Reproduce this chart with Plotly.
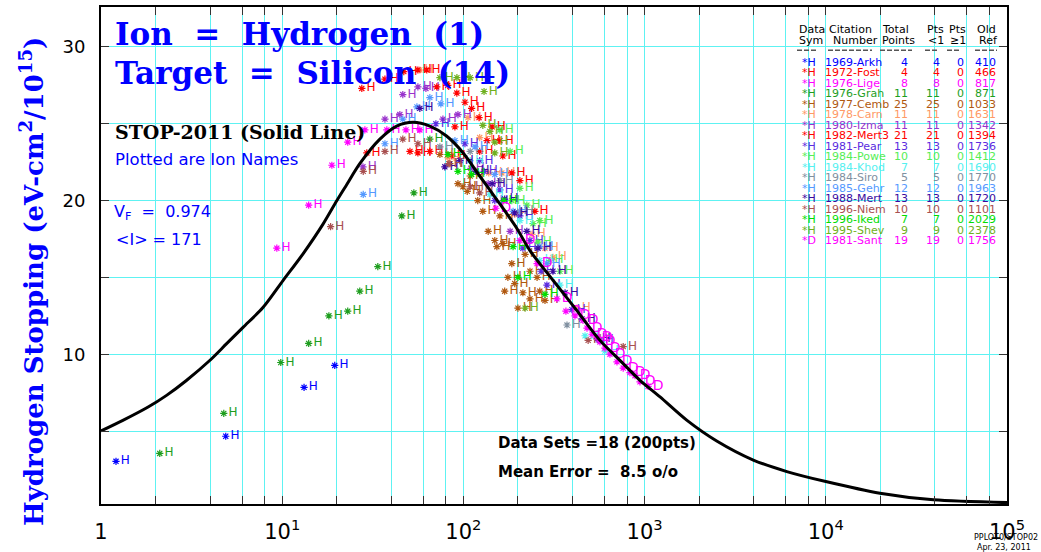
import plotly.graph_objects as go

# ---------------- STOP-2011 curve (solid line) ----------------
curve_E = [1, 1.32, 1.82, 2.30, 2.96, 3.98, 4.92, 6.08, 7.85, 10.1, 13.0, 16.8, 20.0, 22.6,
           26.8, 34.6, 42.8, 52.8, 65.3, 80.7, 99.7, 123, 152, 197, 233, 313, 422, 567,
           731, 943, 1217, 1707, 2500, 3981, 6095, 10000, 19900, 39300, 100000]
curve_S = [5.0, 5.69, 6.56, 7.32, 8.29, 9.59, 10.67, 11.75, 13.05, 14.79, 16.52, 18.47, 19.99, 21.0,
           22.4, 24.0, 24.85, 25.1, 24.85, 24.2, 23.1, 21.6, 20.1, 18.2, 16.74, 14.8, 12.85, 10.9,
           9.6, 8.3, 7.22, 5.71, 4.35, 3.11, 2.36, 1.71, 0.95, 0.52, 0.34]

# ---------------- measured data sets ----------------
arkh_E = [1.21, 4.88, 13.2, 19.5]
arkh_S = [3.03, 4.66, 7.84, 9.27]
fost_E = [29.3, 56.1, 65.3, 86.4]
fost_S = [23.1, 23.1, 23.2, 22.9]
lige_E = [9.34, 14.0, 18.8, 23.0, 28.6, 37.8, 48.2, 57.5]
lige_S = [16.9, 19.7, 22.3, 23.8, 24.6, 24.6, 24.6, 24.6]
grah_E = [2.11, 4.76, 9.82, 14.0, 18.1, 23.0, 26.8, 33.7, 45.7, 53.3, 65.3]
grah_S = [3.54, 6.15, 9.46, 10.7, 12.5, 12.8, 14.1, 15.7, 19.0, 20.5, 24.0]
cemb_E = [74.2, 84.2, 93.3, 99.4, 105, 120, 159, 137, 149, 153, 165, 176, 213, 233, 200, 233,
          255, 185, 192, 264, 282, 169, 128, 109, 219]
cemb_S = [23.0, 22.4, 21.1, 20.9, 20.6, 20.0, 19.0, 18.0, 17.4, 17.0, 17.2, 15.0, 14.0, 13.6, 13.0,
          15.4, 15.0, 15.9, 14.6, 14.1, 13.5, 14.1, 19.3, 21.6, 16.5]
carn_E = [57.5, 106, 123, 138, 163, 192, 239, 312, 424, 282, 82]
carn_S = [28.5, 25.4, 24.1, 21.8, 21.8, 19.1, 17.8, 16.3, 13.0, 16.9, 22.8]
izma_E = [27.9, 46.3, 56.1, 62.1, 36.9, 44.6, 77.1, 93.3, 110, 137, 181]
izma_S = [22.2, 26.9, 27.4, 27.3, 25.3, 25.6, 25.3, 25.6, 22.1, 21.1, 18.0]
mert3_E = [27.5, 36.9, 46.9, 56.1, 62.8, 71.3, 82.0, 92.0, 102, 111, 122, 165, 185, 135, 50.7,
           144, 205, 159, 248, 89.8, 123]
mert3_S = [27.3, 27.9, 28.4, 28.5, 28.5, 27.4, 27.5, 27.0, 26.4, 26.0, 25.4, 22.9, 21.8, 23.9, 23.2,
           24.8, 21.3, 23.9, 19.3, 24.8, 23.2]
pear_E = [70.5, 102, 130, 149, 213, 268, 289, 397, 567, 205, 233, 123, 159]
pear_S = [25.0, 23.7, 21.9, 20.0, 16.9, 15.4, 14.5, 12.9, 10.9, 19.0, 17.4, 22.6, 20.7]
powe_E = [181, 205, 224, 242, 258, 300, 185, 264, 341, 159]
powe_S = [23.2, 20.8, 19.7, 18.5, 17.3, 16.1, 20.0, 18.7, 15.4, 24.6]
khod_E = [140, 109, 205, 341, 469, 604, 264]
khod_S = [20.4, 22.6, 18.7, 14.5, 11.2, 10.2, 16.1]
siro_E = [74.2, 373, 109, 159, 205]
siro_S = [23.5, 11.9, 23.2, 21.3, 19.3]
gehr_E = [28.0, 65.3, 75.1, 55.4, 46.3, 36.9, 89.8, 116, 149, 188, 264, 289]
gehr_S = [20.4, 26.7, 26.3, 26.1, 25.3, 23.7, 23.9, 23.5, 21.7, 19.3, 17.0, 15.9]
mert_E = [57.5, 79, 95.7, 117, 144, 169, 192, 224, 258, 312, 364, 451, 546]
mert_S = [26.0, 22.2, 22.6, 21.9, 21.1, 20.1, 19.2, 18.0, 16.9, 15.4, 14.0, 12.3, 11.0]
niem_E = [18.5, 28.0, 36.9, 46.3, 56.1, 83.1, 488, 762, 109, 123]
niem_S = [18.3, 21.9, 23.2, 24.0, 23.7, 22.4, 10.9, 10.5, 20.9, 20.5]
iked_E = [82.2, 93.3, 111, 167, 188, 200, 282]
iked_S = [23.0, 21.9, 21.7, 20.0, 17.0, 15.0, 13.9]
shev_E = [74.2, 92.1, 109, 130, 128, 140, 149, 149, 219]
shev_S = [28.0, 28.0, 28.0, 27.1, 24.9, 24.5, 23.8, 23.1, 13.0]
sant_E = [151, 205, 255, 328, 368, 413, 457, 481, 513, 546, 567, 604, 644, 704, 762, 830, 885, 943, 1045]
sant_S = [19.5, 17.4, 15.9, 13.6, 12.8, 12.5, 12.2, 11.7, 11.3, 11.1, 10.8, 10.4, 10.0, 9.5, 9.1,
          8.8, 8.6, 8.2, 7.9]

# ---------------- citation table ----------------
cit_names = ["1969-Arkh", "1972-Fost", "1976-Lige", "1976-Grah", "1977-Cemb", "1978-Carn",
             "1980-Izma", "1982-Mert3", "1981-Pear", "1984-Powe", "1984-Khod", "1984-Siro",
             "1985-Gehr", "1988-Mert", "1996-Niem", "1996-Iked", "1995-Shev", "1981-Sant"]
cit_sym = ["H"] * 17 + ["D"]
cit_total = [4, 4, 8, 11, 25, 11, 11, 21, 13, 10, 7, 5, 12, 13, 10, 7, 9, 19]
cit_lt1 = [4, 4, 8, 11, 25, 11, 11, 21, 13, 10, 7, 5, 12, 13, 10, 7, 9, 19]
cit_ge1 = [0] * 18
cit_oldref = [410, 466, 817, 871, 1033, 1631, 1342, 1394, 1736, 1412, 1690, 1770, 1963, 1720,
              1101, 2029, 2378, 1756]

# tick values / labels (labels only at decades; grid + ticks at 2,4,6,8 too)
x_decades = [1, 10, 100, 1000, 10000, 100000]
x_dec_text = ["1", "10<sup>1</sup>", "10<sup>2</sup>", "10<sup>3</sup>", "10<sup>4</sup>", "10<sup>5</sup>"]
x_minor = [m * d for d in [1, 10, 100, 1000, 10000] for m in [2, 4, 6, 8]]
y_major = [10, 20, 30]
y_minor = [5, 15, 25]

# ---------------- styles ----------------
colors = ["#0000FF", "#FF0000", "#FF00FF", "#1E9E1E", "#B0580F", "#FF9966",
          "#9932CC", "#FF0000", "#5B2BE0", "#55EE55", "#55F0F0", "#8090A0",
          "#5599FF", "#3A0AA0", "#A85050", "#00DD00", "#6FB020", "#FF00FF"]
data_E = [arkh_E, fost_E, lige_E, grah_E, cemb_E, carn_E, izma_E, mert3_E, pear_E,
          powe_E, khod_E, siro_E, gehr_E, mert_E, niem_E, iked_E, shev_E, sant_E]
data_S = [arkh_S, fost_S, lige_S, grah_S, cemb_S, carn_S, izma_S, mert3_S, pear_S,
          powe_S, khod_S, siro_S, gehr_S, mert_S, niem_S, iked_S, shev_S, sant_S]

GRID = "#5EF2F2"
W, H = 1041, 552
L, R, T, B = 101, 34, 5, 48
PW, PH = W - L - R, H - T - B


def fx(xpix):
    return (xpix - L) / PW


def fy(ypix):
    return (H - B - ypix) / PH


fig = go.Figure()

for E, S, col, sym in zip(data_E, data_S, colors, cit_sym):
    fig.add_trace(go.Scatter(
        x=E, y=S, mode="markers+text", text=[sym] * len(E),
        textposition="middle right",
        textfont=dict(family="DejaVu Sans", size=12 if sym == "H" else 14, color=col),
        marker=dict(symbol="asterisk-open", size=6, color=col, line=dict(width=1.2, color=col)),
        showlegend=False, hoverinfo="skip", cliponaxis=True))

fig.add_trace(go.Scatter(x=curve_E, y=curve_S, mode="lines",
                         line=dict(color="black", width=3, shape="spline", smoothing=0.8),
                         showlegend=False, hoverinfo="skip"))

ann = []


def add(text, xp, yp, size, color, family="DejaVu Sans", xanchor="left", angle=0):
    ann.append(dict(text=text, x=fx(xp), y=fy(yp), xref="paper", yref="paper",
                    xanchor=xanchor, yanchor="middle", showarrow=False, textangle=angle,
                    font=dict(family=family, size=size, color=color)))


SERIF = "DejaVu Serif"
add("<b>Ion  =  Hydrogen  (1)</b>", 113, 32, 31, "#0000FF", SERIF)
add("<b>Target  =  Silicon  (14)</b>", 113, 71, 31, "#0000FF", SERIF)
add("<b>STOP-2011 (Solid Line)</b>", 113, 131, 19, "black", SERIF)
add("Plotted are Ion Names", 113, 158, 16.5, "#0000FF")
add("V<sub>F</sub>  =  0.974", 112, 211, 16, "#0000FF")
add("&lt;I&gt; = 171", 114, 238, 16, "#0000FF")
add("<b>Data Sets =18 (200pts)</b>", 496, 443, 15, "black")
add("<b>Mean Error =  8.5 o/o</b>", 496, 472, 15, "black")
add("PPLOT0/STOP02", 972, 538, 8, "black")
add("Apr. 23, 2011", 975, 548, 8, "black")
add("<b>Hydrogen Stopping (eV-cm<sup>2</sup>/10<sup>15</sup>)</b>", 32, 281, 26, "#0000FF", SERIF,
    xanchor="center", angle=-90)

# citation table header
hdr1 = [("Data", 797), ("Citation", 827), ("Total", 880), ("Pts", 925), ("Pts", 947), ("Old", 975)]
hdr2 = [("Sym", 797), ("Number", 831), ("Points", 880), ("&lt;1", 926), ("≥1", 948), ("Ref", 977)]
for t, xp in hdr1:
    add(t, xp, 28, 11, "black")
for t, xp in hdr2:
    add(t, xp, 38.5, 11, "black")

shapes = []
for x0, x1 in [(797, 816), (828, 872), (880, 912), (925, 938), (947, 961), (975, 997)]:
    shapes.append(dict(type="line", xref="paper", yref="paper", x0=fx(x0), x1=fx(x1),
                       y0=fy(48.5), y1=fy(48.5), line=dict(color="#555", width=1.5, dash="5px,2px")))

for i in range(len(cit_names)):
    yrow = 60.5 + i * 10.53
    col = colors[i]
    add("*" + cit_sym[i], 800, yrow, 11, col)
    add(cit_names[i], 823, yrow, 11, col)
    add(str(cit_total[i]), 910, yrow, 11, col, xanchor="right")
    add(str(cit_lt1[i]), 942, yrow, 11, col, xanchor="right")
    add(str(cit_ge1[i]), 966, yrow, 11, col, xanchor="right")
    add(str(cit_oldref[i]), 998, yrow, 11, col, xanchor="right")

x_tickvals = x_decades + x_minor
x_ticktext = x_dec_text + [""] * len(x_minor)
y_tickvals = y_major + y_minor
y_ticktext = [str(v) for v in y_major] + [""] * len(y_minor)

axis_common = dict(ticks="inside", ticklen=8, tickwidth=1, tickcolor="#333",
                   showline=True, linecolor="black", linewidth=2, mirror="ticks",
                   showgrid=True, gridcolor=GRID, gridwidth=1, zeroline=False)

fig.update_layout(
    width=W, height=H,
    margin=dict(l=L, r=R, t=T, b=B),
    paper_bgcolor="white", plot_bgcolor="white",
    xaxis=dict(type="log", range=[0, 5], tickmode="array", tickvals=x_tickvals, ticktext=x_ticktext,
               tickfont=dict(family="DejaVu Sans", size=21, color="black"), ticklabelstandoff=8,
               **axis_common),
    yaxis=dict(range=[0.25, 32.6], tickmode="array", tickvals=y_tickvals, ticktext=y_ticktext,
               tickfont=dict(family="DejaVu Sans", size=18, color="black"), ticklabelstandoff=10,
               **axis_common),
    annotations=ann, shapes=shapes,
)

fig.write_html("out.html")
